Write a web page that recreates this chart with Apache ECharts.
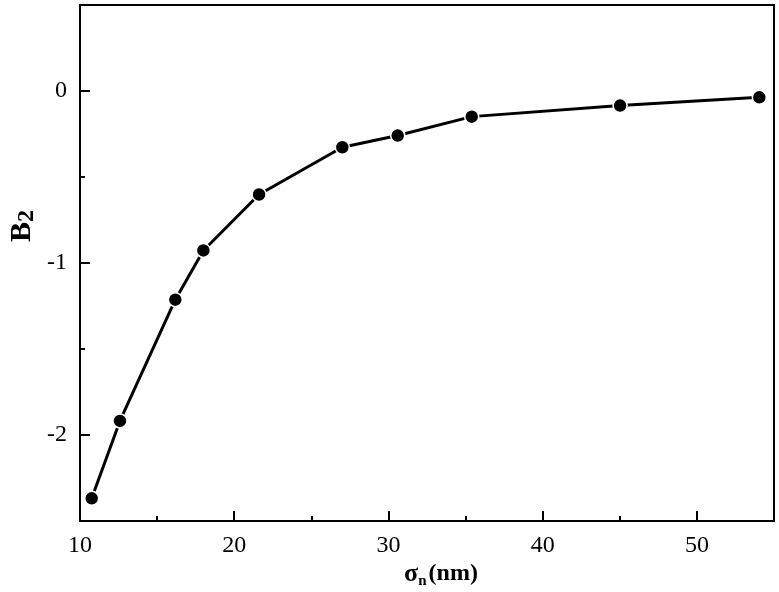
<!DOCTYPE html>
<html>
<head>
<meta charset="utf-8">
<script src="https://cdn.jsdelivr.net/npm/echarts@6/dist/echarts.min.js"></script>
<style>
html,body{margin:0;padding:0;background:#fff;}
#chart{width:779px;height:592px;}
</style>
</head>
<body>
<div id="chart"></div>
<script>
const sigmaN = [10.76, 12.59, 16.18, 18.0, 21.61, 27.01, 30.6, 35.4, 45.02, 54.05];
const b2 = [-2.368, -1.918, -1.213, -0.927, -0.602, -0.327, -0.259, -0.149, -0.085, -0.037];
const xTicks = [10, 20, 30, 40, 50];
const yTicks = [-2, -1, 0];
const yMinorTicks = [-1.5, -0.5];

const FONT = '"Liberation Serif", "Times New Roman", serif';
const chart = echarts.init(document.getElementById('chart'));
const pts = sigmaN.map((x, i) => [x, b2[i]]);

chart.setOption({
  animation: false,
  backgroundColor: '#fff',
  grid: {left: 80, top: 5, right: 5, bottom: 71, show: true, borderColor: '#000', borderWidth: 2},
  xAxis: {
    type: 'value', min: 10, max: 55, interval: 10,
    axisLine: {show: true, onZero: false, lineStyle: {color: '#000', width: 2}},
    axisTick: {show: true, inside: true, length: 10, lineStyle: {color: '#000', width: 2}},
    minorTick: {show: true, splitNumber: 2, length: 5, lineStyle: {color: '#000', width: 2}},
    splitLine: {show: false},
    axisLabel: {
      margin: 13, fontFamily: FONT, fontSize: 24, color: '#000',
      formatter: v => xTicks.includes(v) ? String(v) : ''
    }
  },
  yAxis: [{
    type: 'value', min: -2.5, max: 0.5, interval: 0.5, position: 'left',
    axisLine: {show: true, onZero: false, lineStyle: {color: '#000', width: 2}},
    axisTick: {show: true, inside: true, length: 10, customValues: yTicks, lineStyle: {color: '#000', width: 2}},
    splitLine: {show: false},
    axisLabel: {
      margin: 13, fontFamily: FONT, fontSize: 24, color: '#000', customValues: yTicks,
      formatter: v => String(Math.round(v))
    }
  }, {
    type: 'value', min: -2.5, max: 0.5, interval: 0.5, position: 'left', offset: 0,
    axisLine: {show: false},
    axisTick: {show: true, inside: true, length: 5, customValues: yMinorTicks, lineStyle: {color: '#000', width: 2}},
    splitLine: {show: false},
    axisLabel: {show: false}
  }],
  graphic: [
    {
      type: 'text', x: 22, y: 226, rotation: Math.PI / 2,
      style: {
        text: '{b|B}{s|2}', align: 'center', verticalAlign: 'middle',
        rich: {
          b: {fontFamily: FONT, fontSize: 30, fontWeight: 'bold', fill: '#000', color: '#000'},
          s: {fontFamily: FONT, fontSize: 24, fontWeight: 'bold', fill: '#000', color: '#000', padding: [10, 0, 0, 0]}
        }
      }
    },
    {
      type: 'text', x: 441, y: 574,
      style: {
        text: '{g|σ}{n|n}{t|(nm)}', align: 'center', verticalAlign: 'middle',
        rich: {
          g: {fontFamily: FONT, fontSize: 26, fontWeight: 'bold', fill: '#000', color: '#000'},
          n: {fontFamily: FONT, fontSize: 15, fontWeight: 'bold', fill: '#000', color: '#000', padding: [14, 2, 0, 0]},
          t: {fontFamily: FONT, fontSize: 24, fontWeight: 'bold', fill: '#000', color: '#000'}
        }
      }
    }
  ],
  series: [{
    type: 'line', data: pts, yAxisIndex: 0,
    symbol: 'circle', symbolSize: 14,
    lineStyle: {color: '#000', width: 3},
    itemStyle: {color: '#000', borderColor: '#fff', borderWidth: 1.5}
  }]
});
</script>
</body>
</html>
